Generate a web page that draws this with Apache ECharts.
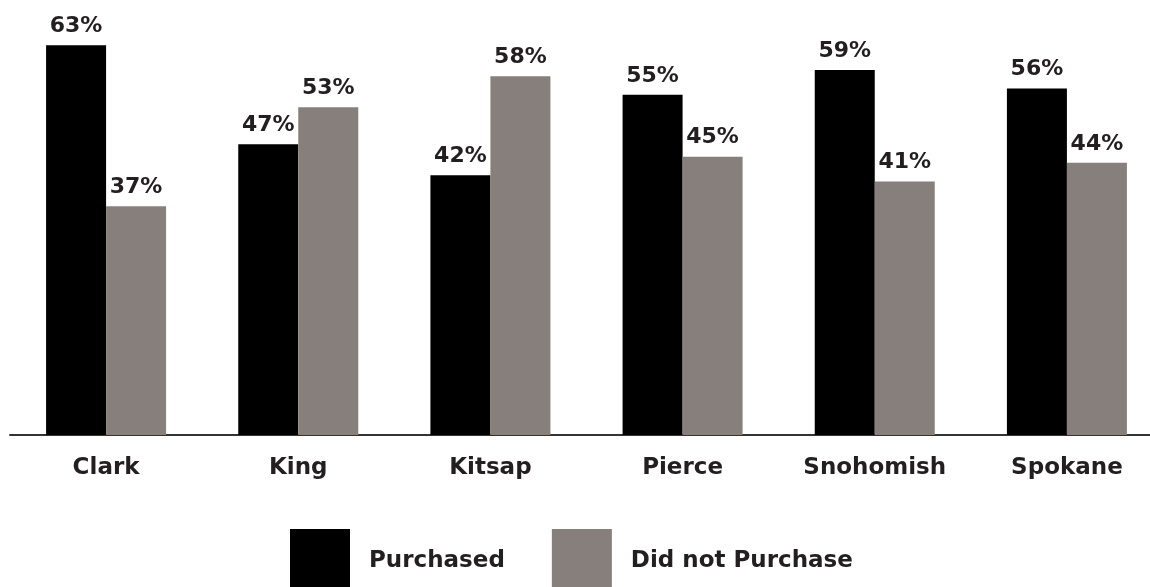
<!DOCTYPE html>
<html>
<head>
<meta charset="utf-8">
<script src="https://cdn.jsdelivr.net/npm/echarts@6/dist/echarts.min.js"></script>
<style>
  html, body { margin: 0; padding: 0; background: #fff; }
  #chart { width: 1150px; height: 587px; }
</style>
</head>
<body>
<div id="chart"></div>
<script>
// Share of respondents by county
const counties = ['Clark', 'King', 'Kitsap', 'Pierce', 'Snohomish', 'Spokane'];
const purchased = [63, 47, 42, 55, 59, 56];
const didNotPurchase = [37, 53, 58, 45, 41, 44];

const FONT = 'DejaVu Sans';
const TEXT = '#231f20';

const labelStyle = {
  show: true,
  position: 'top',
  distance: 8,
  formatter: '{c}%',
  fontFamily: FONT,
  fontWeight: 'bold',
  fontSize: 22,
  color: TEXT
};

const chart = echarts.init(document.getElementById('chart'), null, { renderer: 'canvas' });
chart.setOption({
  animation: false,
  backgroundColor: '#ffffff',
  // plot area runs a little past the right edge so the last group sits where it should
  grid: { left: 10, width: 1153, top: 2, bottom: 152, containLabel: false, outerBoundsMode: 'none' },
  legend: {
    left: 285,
    top: 524,
    itemWidth: 60,
    itemHeight: 64,
    itemGap: 47,
    icon: 'rect',
    textStyle: { fontFamily: FONT, fontWeight: 'bold', fontSize: 23, color: TEXT, padding: [0, 0, 0, 14] },
    data: ['Purchased', 'Did not Purchase']
  },
  xAxis: {
    type: 'category',
    data: counties,
    axisLine: { show: true, lineStyle: { color: '#333333', width: 2 } },
    axisTick: { show: false },
    axisLabel: { margin: 22, fontFamily: FONT, fontWeight: 'bold', fontSize: 23, color: TEXT }
  },
  yAxis: {
    type: 'value',
    min: 0,
    max: 70,
    show: false,
    splitLine: { show: false }
  },
  series: [
    {
      name: 'Purchased',
      type: 'bar',
      data: purchased,
      barWidth: 60,
      barGap: '0%',
      itemStyle: { color: '#000000' },
      label: labelStyle
    },
    {
      name: 'Did not Purchase',
      type: 'bar',
      data: didNotPurchase,
      barWidth: 60,
      itemStyle: { color: '#877f7c' },
      label: labelStyle
    }
  ]
});
</script>
</body>
</html>
